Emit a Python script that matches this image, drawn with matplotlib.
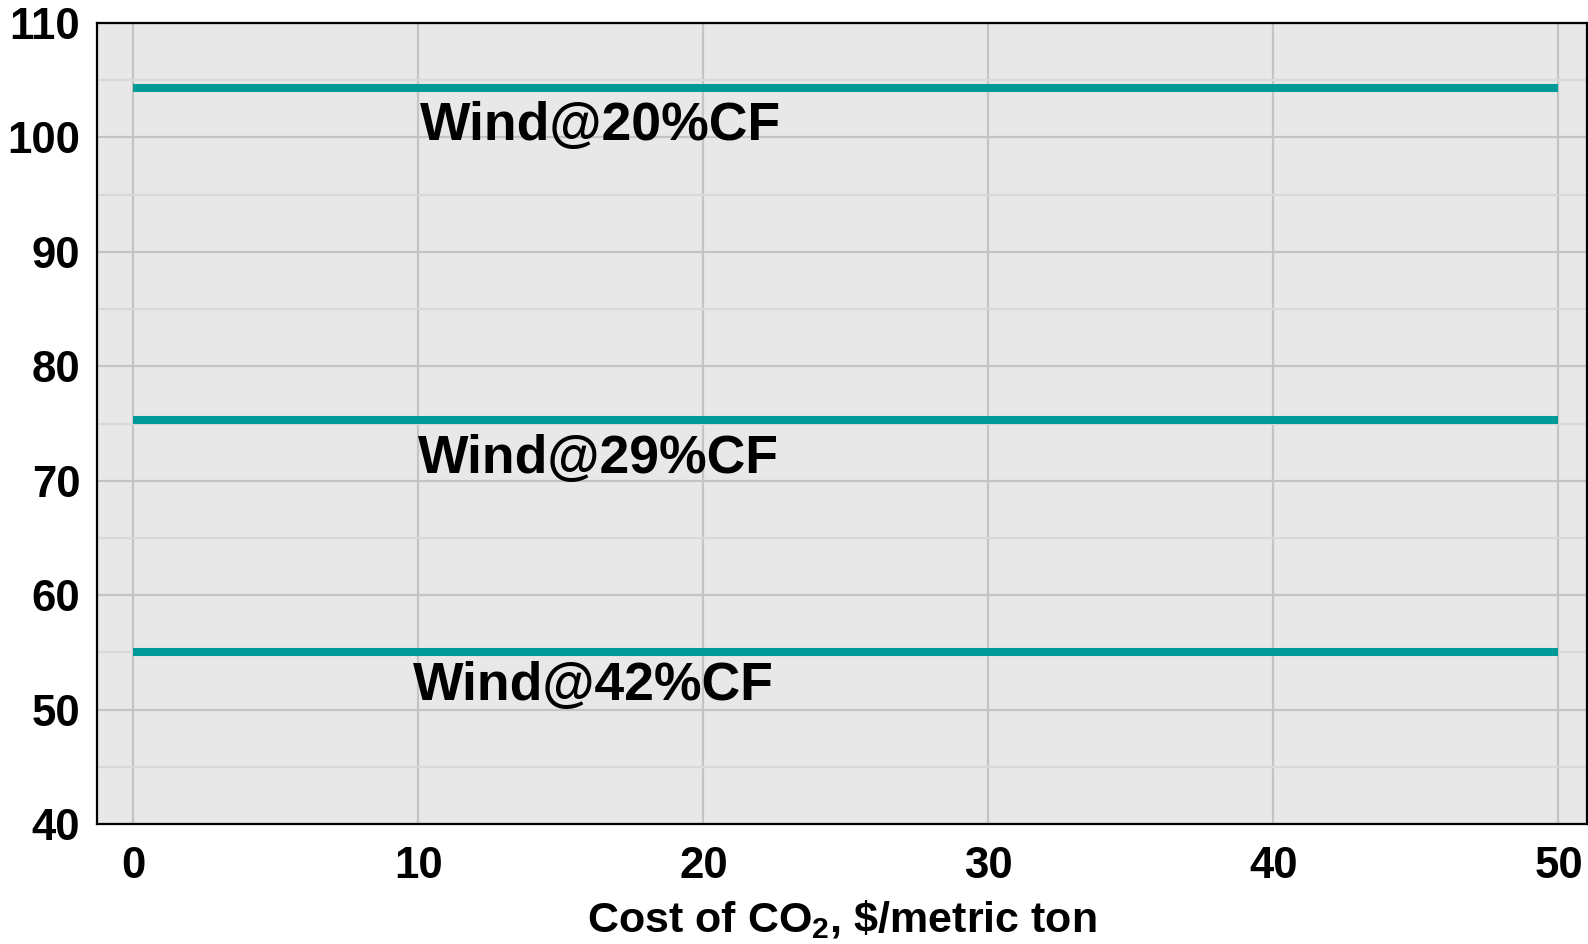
import numpy as np
import matplotlib.pyplot as plt
from matplotlib.ticker import MultipleLocator

# Coût de l'éolien selon le facteur de capacité
couts_co2 = [0, 50]
etiquettes = ["Wind@20%CF", "Wind@29%CF", "Wind@42%CF"]
valeurs = [104.3, 75.3, 55.0]
pos_etiquettes_x = [10.05, 10.0, 9.8]
pos_etiquettes_y = [101.0, 71.9, 52.1]

plt.rcParams['font.family'] = ['Liberation Sans', 'DejaVu Sans']
plt.rcParams['font.weight'] = 'bold'
plt.rcParams['mathtext.fontset'] = 'custom'
plt.rcParams['mathtext.rm'] = 'Liberation Sans:bold'
plt.rcParams['mathtext.bf'] = 'Liberation Sans:bold'
plt.rcParams['mathtext.default'] = 'bf'

fig = plt.figure(figsize=(15.88, 9.44), dpi=100)
ax = fig.add_axes([97 / 1588, 1 - 824 / 944, (1587 - 97) / 1588, (824 - 23) / 944])
ax.set_facecolor('#e8e8e8')

couleur = '#009b98'
for v, txt, tx, ty in zip(valeurs, etiquettes, pos_etiquettes_x, pos_etiquettes_y):
    ax.plot(couts_co2, [v, v], color=couleur, lw=5.8, solid_capstyle='butt', zorder=3)
    ax.text(tx, ty, txt, fontsize=38.5, fontweight='bold', ha='left', va='center', zorder=4)

ax.set_xlim(-1.27, 51.0)
ax.set_ylim(40, 110)
ax.xaxis.set_major_locator(MultipleLocator(10))
ax.yaxis.set_major_locator(MultipleLocator(10))
ax.yaxis.set_minor_locator(MultipleLocator(5))

ax.grid(True, which='major', color='#c4c4c4', lw=1.6, zorder=0)
ax.grid(True, which='minor', axis='y', color='#d9d9d9', lw=1.6, zorder=0)
ax.set_axisbelow(True)

ax.tick_params(axis='both', which='both', length=0, labelsize=31.5)
ax.tick_params(axis='x', pad=16)
ax.tick_params(axis='y', pad=12)
for lab in ax.get_xticklabels() + ax.get_yticklabels():
    lab.set_fontweight('bold')

for s in ax.spines.values():
    s.set_linewidth(1.6)
    s.set_color('black')

ax.set_xlabel(r'Cost of CO$_\mathbf{2}$, \$/metric ton', fontsize=31, fontweight='bold', labelpad=8)

fig.savefig('out.png', dpi=100)
